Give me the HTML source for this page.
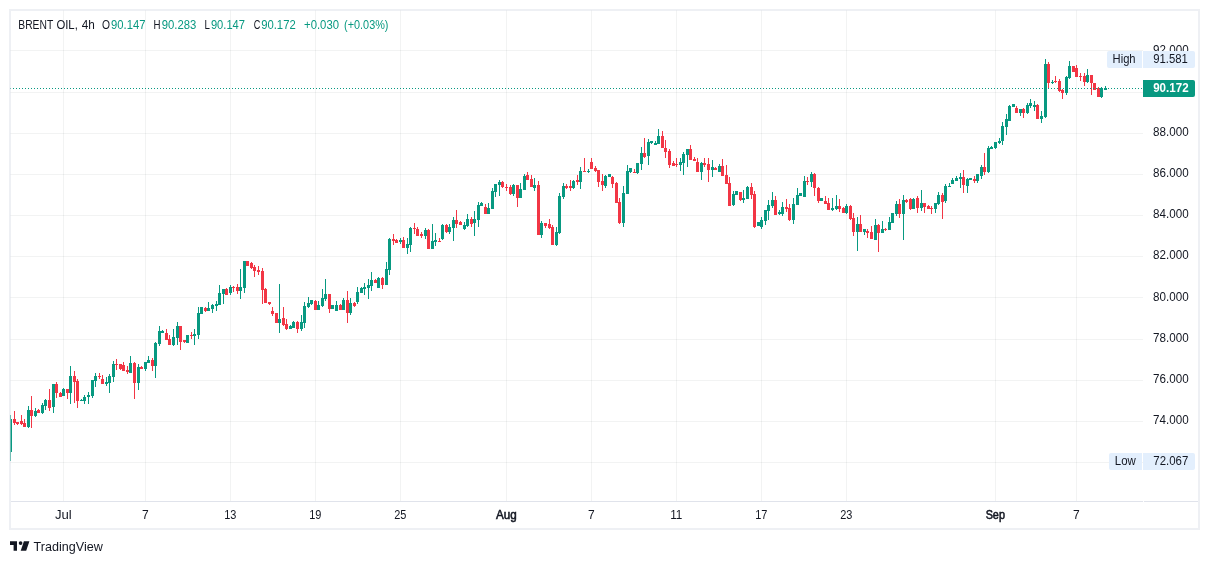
<!DOCTYPE html>
<html lang="en"><head><meta charset="utf-8"><title>BRENT OIL, 4h</title>
<style>html,body{margin:0;padding:0;background:#fff;overflow:hidden}</style></head>
<body>
<svg width="1209" height="564" viewBox="0 0 1209 564" style="display:block">
<rect width="1209" height="564" fill="#fff"/>
<g shape-rendering="crispEdges" fill="rgba(42,46,57,0.06)">
<rect x="10" y="50" width="1133" height="1"/>
<rect x="10" y="92" width="1133" height="1"/>
<rect x="10" y="133" width="1133" height="1"/>
<rect x="10" y="174" width="1133" height="1"/>
<rect x="10" y="215" width="1133" height="1"/>
<rect x="10" y="256" width="1133" height="1"/>
<rect x="10" y="297" width="1133" height="1"/>
<rect x="10" y="339" width="1133" height="1"/>
<rect x="10" y="380" width="1133" height="1"/>
<rect x="10" y="421" width="1133" height="1"/>
<rect x="10" y="462" width="1133" height="1"/>
<rect x="63" y="10" width="1" height="491"/>
<rect x="145" y="10" width="1" height="491"/>
<rect x="230" y="10" width="1" height="491"/>
<rect x="315" y="10" width="1" height="491"/>
<rect x="400" y="10" width="1" height="491"/>
<rect x="506" y="10" width="1" height="491"/>
<rect x="591" y="10" width="1" height="491"/>
<rect x="676" y="10" width="1" height="491"/>
<rect x="761" y="10" width="1" height="491"/>
<rect x="846" y="10" width="1" height="491"/>
<rect x="995" y="10" width="1" height="491"/>
<rect x="1076" y="10" width="1" height="491"/>
</g>
<clipPath id="pane"><rect x="10" y="10" width="1132" height="491"/></clipPath>
<g shape-rendering="crispEdges" clip-path="url(#pane)">
<rect x="10" y="415" width="1" height="46" fill="#089981"/>
<rect x="9" y="419" width="3" height="33" fill="#089981"/>
<rect x="14" y="411" width="1" height="14" fill="#f23645"/>
<rect x="13" y="419" width="3" height="4" fill="#f23645"/>
<rect x="17" y="422" width="1" height="3" fill="#f23645"/>
<rect x="16" y="422" width="3" height="2" fill="#f23645"/>
<rect x="21" y="415" width="1" height="10" fill="#f23645"/>
<rect x="20" y="421" width="3" height="3" fill="#f23645"/>
<rect x="24" y="419" width="1" height="8" fill="#f23645"/>
<rect x="23" y="423" width="3" height="4" fill="#f23645"/>
<rect x="28" y="406" width="1" height="22" fill="#089981"/>
<rect x="27" y="410" width="3" height="17" fill="#089981"/>
<rect x="31" y="396" width="1" height="32" fill="#f23645"/>
<rect x="30" y="410" width="3" height="6" fill="#f23645"/>
<rect x="35" y="408" width="1" height="9" fill="#089981"/>
<rect x="34" y="411" width="3" height="5" fill="#089981"/>
<rect x="38" y="409" width="1" height="4" fill="#f23645"/>
<rect x="37" y="410" width="3" height="3" fill="#f23645"/>
<rect x="42" y="403" width="1" height="11" fill="#089981"/>
<rect x="41" y="405" width="3" height="8" fill="#089981"/>
<rect x="45" y="399" width="1" height="11" fill="#089981"/>
<rect x="44" y="400" width="3" height="6" fill="#089981"/>
<rect x="49" y="389" width="1" height="22" fill="#f23645"/>
<rect x="48" y="400" width="3" height="8" fill="#f23645"/>
<rect x="53" y="384" width="1" height="29" fill="#089981"/>
<rect x="52" y="384" width="3" height="23" fill="#089981"/>
<rect x="56" y="382" width="1" height="16" fill="#f23645"/>
<rect x="55" y="384" width="3" height="9" fill="#f23645"/>
<rect x="60" y="392" width="1" height="5" fill="#f23645"/>
<rect x="59" y="393" width="3" height="4" fill="#f23645"/>
<rect x="63" y="388" width="1" height="8" fill="#089981"/>
<rect x="62" y="389" width="3" height="7" fill="#089981"/>
<rect x="67" y="389" width="1" height="10" fill="#f23645"/>
<rect x="66" y="389" width="3" height="4" fill="#f23645"/>
<rect x="70" y="366" width="1" height="38" fill="#089981"/>
<rect x="69" y="376" width="3" height="17" fill="#089981"/>
<rect x="74" y="371" width="1" height="32" fill="#f23645"/>
<rect x="73" y="376" width="3" height="6" fill="#f23645"/>
<rect x="77" y="379" width="1" height="29" fill="#f23645"/>
<rect x="76" y="381" width="3" height="20" fill="#f23645"/>
<rect x="81" y="399" width="1" height="2" fill="#089981"/>
<rect x="80" y="400" width="3" height="1" fill="#089981"/>
<rect x="84" y="395" width="1" height="9" fill="#089981"/>
<rect x="83" y="397" width="3" height="4" fill="#089981"/>
<rect x="88" y="392" width="1" height="12" fill="#089981"/>
<rect x="87" y="395" width="3" height="2" fill="#089981"/>
<rect x="92" y="380" width="1" height="18" fill="#089981"/>
<rect x="91" y="380" width="3" height="16" fill="#089981"/>
<rect x="95" y="373" width="1" height="14" fill="#089981"/>
<rect x="94" y="376" width="3" height="5" fill="#089981"/>
<rect x="99" y="373" width="1" height="6" fill="#f23645"/>
<rect x="98" y="376" width="3" height="1" fill="#f23645"/>
<rect x="102" y="375" width="1" height="9" fill="#f23645"/>
<rect x="101" y="379" width="3" height="5" fill="#f23645"/>
<rect x="106" y="377" width="1" height="9" fill="#089981"/>
<rect x="105" y="382" width="3" height="2" fill="#089981"/>
<rect x="109" y="374" width="1" height="19" fill="#089981"/>
<rect x="108" y="376" width="3" height="7" fill="#089981"/>
<rect x="113" y="361" width="1" height="21" fill="#089981"/>
<rect x="112" y="364" width="3" height="13" fill="#089981"/>
<rect x="116" y="359" width="1" height="11" fill="#f23645"/>
<rect x="115" y="364" width="3" height="1" fill="#f23645"/>
<rect x="120" y="364" width="1" height="6" fill="#f23645"/>
<rect x="119" y="364" width="3" height="5" fill="#f23645"/>
<rect x="123" y="362" width="1" height="9" fill="#f23645"/>
<rect x="122" y="365" width="3" height="6" fill="#f23645"/>
<rect x="127" y="366" width="1" height="8" fill="#f23645"/>
<rect x="126" y="370" width="3" height="2" fill="#f23645"/>
<rect x="130" y="356" width="1" height="17" fill="#089981"/>
<rect x="129" y="363" width="3" height="10" fill="#089981"/>
<rect x="134" y="362" width="1" height="37" fill="#f23645"/>
<rect x="133" y="363" width="3" height="20" fill="#f23645"/>
<rect x="138" y="364" width="1" height="26" fill="#089981"/>
<rect x="137" y="367" width="3" height="16" fill="#089981"/>
<rect x="141" y="366" width="1" height="3" fill="#f23645"/>
<rect x="140" y="367" width="3" height="2" fill="#f23645"/>
<rect x="145" y="362" width="1" height="9" fill="#089981"/>
<rect x="144" y="362" width="3" height="7" fill="#089981"/>
<rect x="148" y="356" width="1" height="7" fill="#089981"/>
<rect x="147" y="360" width="3" height="3" fill="#089981"/>
<rect x="152" y="358" width="1" height="13" fill="#f23645"/>
<rect x="151" y="360" width="3" height="6" fill="#f23645"/>
<rect x="155" y="342" width="1" height="36" fill="#089981"/>
<rect x="154" y="343" width="3" height="23" fill="#089981"/>
<rect x="159" y="326" width="1" height="20" fill="#089981"/>
<rect x="158" y="331" width="3" height="13" fill="#089981"/>
<rect x="162" y="330" width="1" height="3" fill="#089981"/>
<rect x="161" y="331" width="3" height="2" fill="#089981"/>
<rect x="166" y="329" width="1" height="11" fill="#f23645"/>
<rect x="165" y="333" width="3" height="7" fill="#f23645"/>
<rect x="169" y="335" width="1" height="10" fill="#f23645"/>
<rect x="168" y="339" width="3" height="6" fill="#f23645"/>
<rect x="173" y="329" width="1" height="17" fill="#089981"/>
<rect x="172" y="337" width="3" height="8" fill="#089981"/>
<rect x="177" y="322" width="1" height="23" fill="#089981"/>
<rect x="176" y="326" width="3" height="12" fill="#089981"/>
<rect x="180" y="326" width="1" height="24" fill="#f23645"/>
<rect x="179" y="326" width="3" height="16" fill="#f23645"/>
<rect x="184" y="340" width="1" height="3" fill="#f23645"/>
<rect x="183" y="340" width="3" height="2" fill="#f23645"/>
<rect x="187" y="335" width="1" height="8" fill="#089981"/>
<rect x="186" y="335" width="3" height="8" fill="#089981"/>
<rect x="191" y="332" width="1" height="7" fill="#f23645"/>
<rect x="190" y="335" width="3" height="1" fill="#f23645"/>
<rect x="194" y="329" width="1" height="16" fill="#089981"/>
<rect x="193" y="334" width="3" height="2" fill="#089981"/>
<rect x="198" y="307" width="1" height="32" fill="#089981"/>
<rect x="197" y="313" width="3" height="22" fill="#089981"/>
<rect x="201" y="307" width="1" height="7" fill="#089981"/>
<rect x="200" y="307" width="3" height="7" fill="#089981"/>
<rect x="205" y="307" width="1" height="5" fill="#f23645"/>
<rect x="204" y="308" width="3" height="3" fill="#f23645"/>
<rect x="208" y="302" width="1" height="9" fill="#089981"/>
<rect x="207" y="308" width="3" height="3" fill="#089981"/>
<rect x="212" y="304" width="1" height="9" fill="#089981"/>
<rect x="211" y="305" width="3" height="4" fill="#089981"/>
<rect x="216" y="301" width="1" height="10" fill="#089981"/>
<rect x="215" y="304" width="3" height="2" fill="#089981"/>
<rect x="219" y="285" width="1" height="20" fill="#089981"/>
<rect x="218" y="293" width="3" height="12" fill="#089981"/>
<rect x="223" y="289" width="1" height="15" fill="#089981"/>
<rect x="222" y="289" width="3" height="5" fill="#089981"/>
<rect x="226" y="288" width="1" height="7" fill="#f23645"/>
<rect x="225" y="289" width="3" height="6" fill="#f23645"/>
<rect x="230" y="285" width="1" height="10" fill="#089981"/>
<rect x="229" y="287" width="3" height="6" fill="#089981"/>
<rect x="233" y="286" width="1" height="6" fill="#f23645"/>
<rect x="232" y="287" width="3" height="1" fill="#f23645"/>
<rect x="237" y="284" width="1" height="10" fill="#f23645"/>
<rect x="236" y="287" width="3" height="4" fill="#f23645"/>
<rect x="240" y="269" width="1" height="30" fill="#089981"/>
<rect x="239" y="287" width="3" height="4" fill="#089981"/>
<rect x="244" y="261" width="1" height="32" fill="#089981"/>
<rect x="243" y="261" width="3" height="27" fill="#089981"/>
<rect x="247" y="261" width="1" height="5" fill="#f23645"/>
<rect x="246" y="261" width="3" height="5" fill="#f23645"/>
<rect x="251" y="262" width="1" height="7" fill="#f23645"/>
<rect x="250" y="263" width="3" height="5" fill="#f23645"/>
<rect x="254" y="265" width="1" height="12" fill="#f23645"/>
<rect x="253" y="267" width="3" height="4" fill="#f23645"/>
<rect x="258" y="266" width="1" height="9" fill="#f23645"/>
<rect x="257" y="270" width="3" height="2" fill="#f23645"/>
<rect x="262" y="268" width="1" height="36" fill="#f23645"/>
<rect x="261" y="271" width="3" height="19" fill="#f23645"/>
<rect x="265" y="288" width="1" height="15" fill="#f23645"/>
<rect x="264" y="289" width="3" height="14" fill="#f23645"/>
<rect x="269" y="302" width="1" height="3" fill="#f23645"/>
<rect x="268" y="302" width="3" height="2" fill="#f23645"/>
<rect x="272" y="307" width="1" height="9" fill="#f23645"/>
<rect x="271" y="311" width="3" height="3" fill="#f23645"/>
<rect x="276" y="313" width="1" height="10" fill="#f23645"/>
<rect x="275" y="313" width="3" height="10" fill="#f23645"/>
<rect x="279" y="284" width="1" height="49" fill="#089981"/>
<rect x="278" y="319" width="3" height="4" fill="#089981"/>
<rect x="283" y="307" width="1" height="19" fill="#f23645"/>
<rect x="282" y="318" width="3" height="7" fill="#f23645"/>
<rect x="286" y="319" width="1" height="11" fill="#f23645"/>
<rect x="285" y="324" width="3" height="5" fill="#f23645"/>
<rect x="290" y="325" width="1" height="4" fill="#089981"/>
<rect x="289" y="326" width="3" height="3" fill="#089981"/>
<rect x="293" y="321" width="1" height="7" fill="#089981"/>
<rect x="292" y="322" width="3" height="6" fill="#089981"/>
<rect x="297" y="321" width="1" height="12" fill="#f23645"/>
<rect x="296" y="322" width="3" height="7" fill="#f23645"/>
<rect x="301" y="315" width="1" height="16" fill="#089981"/>
<rect x="300" y="322" width="3" height="7" fill="#089981"/>
<rect x="304" y="302" width="1" height="26" fill="#089981"/>
<rect x="303" y="306" width="3" height="17" fill="#089981"/>
<rect x="308" y="297" width="1" height="11" fill="#089981"/>
<rect x="307" y="303" width="3" height="4" fill="#089981"/>
<rect x="311" y="300" width="1" height="5" fill="#089981"/>
<rect x="310" y="300" width="3" height="4" fill="#089981"/>
<rect x="315" y="300" width="1" height="10" fill="#f23645"/>
<rect x="314" y="301" width="3" height="9" fill="#f23645"/>
<rect x="318" y="301" width="1" height="9" fill="#089981"/>
<rect x="317" y="305" width="3" height="5" fill="#089981"/>
<rect x="322" y="289" width="1" height="18" fill="#089981"/>
<rect x="321" y="298" width="3" height="8" fill="#089981"/>
<rect x="325" y="279" width="1" height="22" fill="#089981"/>
<rect x="324" y="294" width="3" height="5" fill="#089981"/>
<rect x="329" y="294" width="1" height="19" fill="#f23645"/>
<rect x="328" y="294" width="3" height="15" fill="#f23645"/>
<rect x="332" y="305" width="1" height="4" fill="#089981"/>
<rect x="331" y="305" width="3" height="4" fill="#089981"/>
<rect x="336" y="301" width="1" height="10" fill="#089981"/>
<rect x="335" y="305" width="3" height="6" fill="#089981"/>
<rect x="340" y="304" width="1" height="6" fill="#f23645"/>
<rect x="339" y="305" width="3" height="5" fill="#f23645"/>
<rect x="343" y="298" width="1" height="12" fill="#089981"/>
<rect x="342" y="300" width="3" height="10" fill="#089981"/>
<rect x="347" y="291" width="1" height="32" fill="#f23645"/>
<rect x="346" y="300" width="3" height="13" fill="#f23645"/>
<rect x="350" y="298" width="1" height="17" fill="#089981"/>
<rect x="349" y="303" width="3" height="10" fill="#089981"/>
<rect x="354" y="302" width="1" height="5" fill="#f23645"/>
<rect x="353" y="303" width="3" height="3" fill="#f23645"/>
<rect x="357" y="287" width="1" height="17" fill="#089981"/>
<rect x="356" y="292" width="3" height="10" fill="#089981"/>
<rect x="361" y="287" width="1" height="6" fill="#089981"/>
<rect x="360" y="288" width="3" height="5" fill="#089981"/>
<rect x="364" y="283" width="1" height="12" fill="#089981"/>
<rect x="363" y="287" width="3" height="2" fill="#089981"/>
<rect x="368" y="279" width="1" height="20" fill="#089981"/>
<rect x="367" y="285" width="3" height="3" fill="#089981"/>
<rect x="371" y="272" width="1" height="19" fill="#089981"/>
<rect x="370" y="280" width="3" height="6" fill="#089981"/>
<rect x="375" y="279" width="1" height="4" fill="#f23645"/>
<rect x="374" y="280" width="3" height="3" fill="#f23645"/>
<rect x="378" y="277" width="1" height="11" fill="#089981"/>
<rect x="377" y="278" width="3" height="10" fill="#089981"/>
<rect x="382" y="277" width="1" height="12" fill="#f23645"/>
<rect x="381" y="278" width="3" height="7" fill="#f23645"/>
<rect x="386" y="262" width="1" height="23" fill="#089981"/>
<rect x="385" y="269" width="3" height="16" fill="#089981"/>
<rect x="389" y="238" width="1" height="37" fill="#089981"/>
<rect x="388" y="239" width="3" height="31" fill="#089981"/>
<rect x="393" y="234" width="1" height="11" fill="#f23645"/>
<rect x="392" y="239" width="3" height="2" fill="#f23645"/>
<rect x="396" y="239" width="1" height="4" fill="#f23645"/>
<rect x="395" y="240" width="3" height="3" fill="#f23645"/>
<rect x="400" y="238" width="1" height="6" fill="#089981"/>
<rect x="399" y="240" width="3" height="2" fill="#089981"/>
<rect x="403" y="237" width="1" height="11" fill="#f23645"/>
<rect x="402" y="240" width="3" height="8" fill="#f23645"/>
<rect x="407" y="238" width="1" height="16" fill="#089981"/>
<rect x="406" y="244" width="3" height="4" fill="#089981"/>
<rect x="410" y="227" width="1" height="25" fill="#089981"/>
<rect x="409" y="228" width="3" height="17" fill="#089981"/>
<rect x="414" y="223" width="1" height="11" fill="#f23645"/>
<rect x="413" y="228" width="3" height="1" fill="#f23645"/>
<rect x="417" y="227" width="1" height="9" fill="#f23645"/>
<rect x="416" y="229" width="3" height="7" fill="#f23645"/>
<rect x="421" y="232" width="1" height="6" fill="#f23645"/>
<rect x="420" y="234" width="3" height="2" fill="#f23645"/>
<rect x="425" y="228" width="1" height="11" fill="#089981"/>
<rect x="424" y="230" width="3" height="6" fill="#089981"/>
<rect x="428" y="229" width="1" height="20" fill="#f23645"/>
<rect x="427" y="230" width="3" height="19" fill="#f23645"/>
<rect x="432" y="224" width="1" height="25" fill="#089981"/>
<rect x="431" y="241" width="3" height="8" fill="#089981"/>
<rect x="435" y="233" width="1" height="13" fill="#089981"/>
<rect x="434" y="240" width="3" height="2" fill="#089981"/>
<rect x="439" y="238" width="1" height="4" fill="#f23645"/>
<rect x="438" y="241" width="3" height="1" fill="#f23645"/>
<rect x="442" y="224" width="1" height="16" fill="#089981"/>
<rect x="441" y="225" width="3" height="14" fill="#089981"/>
<rect x="446" y="224" width="1" height="9" fill="#f23645"/>
<rect x="445" y="225" width="3" height="7" fill="#f23645"/>
<rect x="449" y="224" width="1" height="10" fill="#089981"/>
<rect x="448" y="227" width="3" height="5" fill="#089981"/>
<rect x="453" y="217" width="1" height="24" fill="#089981"/>
<rect x="452" y="220" width="3" height="8" fill="#089981"/>
<rect x="456" y="210" width="1" height="18" fill="#f23645"/>
<rect x="455" y="220" width="3" height="4" fill="#f23645"/>
<rect x="460" y="221" width="1" height="4" fill="#f23645"/>
<rect x="459" y="222" width="3" height="3" fill="#f23645"/>
<rect x="464" y="222" width="1" height="8" fill="#089981"/>
<rect x="463" y="225" width="3" height="4" fill="#089981"/>
<rect x="467" y="214" width="1" height="13" fill="#089981"/>
<rect x="466" y="219" width="3" height="7" fill="#089981"/>
<rect x="471" y="217" width="1" height="10" fill="#f23645"/>
<rect x="470" y="219" width="3" height="5" fill="#f23645"/>
<rect x="474" y="211" width="1" height="25" fill="#089981"/>
<rect x="473" y="219" width="3" height="4" fill="#089981"/>
<rect x="478" y="202" width="1" height="25" fill="#089981"/>
<rect x="477" y="205" width="3" height="15" fill="#089981"/>
<rect x="481" y="202" width="1" height="4" fill="#089981"/>
<rect x="480" y="203" width="3" height="3" fill="#089981"/>
<rect x="485" y="204" width="1" height="10" fill="#f23645"/>
<rect x="484" y="207" width="3" height="7" fill="#f23645"/>
<rect x="488" y="203" width="1" height="11" fill="#089981"/>
<rect x="487" y="208" width="3" height="6" fill="#089981"/>
<rect x="492" y="188" width="1" height="21" fill="#089981"/>
<rect x="491" y="191" width="3" height="18" fill="#089981"/>
<rect x="495" y="184" width="1" height="13" fill="#089981"/>
<rect x="494" y="184" width="3" height="8" fill="#089981"/>
<rect x="499" y="180" width="1" height="16" fill="#089981"/>
<rect x="498" y="182" width="3" height="3" fill="#089981"/>
<rect x="502" y="181" width="1" height="7" fill="#f23645"/>
<rect x="501" y="182" width="3" height="5" fill="#f23645"/>
<rect x="506" y="184" width="1" height="7" fill="#f23645"/>
<rect x="505" y="187" width="3" height="1" fill="#f23645"/>
<rect x="510" y="185" width="1" height="10" fill="#f23645"/>
<rect x="509" y="187" width="3" height="7" fill="#f23645"/>
<rect x="513" y="184" width="1" height="12" fill="#089981"/>
<rect x="512" y="185" width="3" height="9" fill="#089981"/>
<rect x="517" y="185" width="1" height="22" fill="#f23645"/>
<rect x="516" y="185" width="3" height="13" fill="#f23645"/>
<rect x="520" y="183" width="1" height="15" fill="#089981"/>
<rect x="519" y="189" width="3" height="9" fill="#089981"/>
<rect x="524" y="174" width="1" height="16" fill="#089981"/>
<rect x="523" y="176" width="3" height="14" fill="#089981"/>
<rect x="527" y="172" width="1" height="8" fill="#f23645"/>
<rect x="526" y="175" width="3" height="5" fill="#f23645"/>
<rect x="531" y="175" width="1" height="12" fill="#f23645"/>
<rect x="530" y="179" width="3" height="8" fill="#f23645"/>
<rect x="534" y="178" width="1" height="13" fill="#089981"/>
<rect x="533" y="185" width="3" height="3" fill="#089981"/>
<rect x="538" y="181" width="1" height="54" fill="#f23645"/>
<rect x="537" y="185" width="3" height="50" fill="#f23645"/>
<rect x="541" y="221" width="1" height="17" fill="#089981"/>
<rect x="540" y="223" width="3" height="12" fill="#089981"/>
<rect x="545" y="223" width="1" height="5" fill="#f23645"/>
<rect x="544" y="223" width="3" height="3" fill="#f23645"/>
<rect x="549" y="219" width="1" height="10" fill="#f23645"/>
<rect x="548" y="224" width="3" height="4" fill="#f23645"/>
<rect x="552" y="225" width="1" height="20" fill="#f23645"/>
<rect x="551" y="227" width="3" height="18" fill="#f23645"/>
<rect x="556" y="227" width="1" height="19" fill="#089981"/>
<rect x="555" y="232" width="3" height="13" fill="#089981"/>
<rect x="559" y="193" width="1" height="41" fill="#089981"/>
<rect x="558" y="196" width="3" height="37" fill="#089981"/>
<rect x="563" y="183" width="1" height="16" fill="#089981"/>
<rect x="562" y="186" width="3" height="11" fill="#089981"/>
<rect x="566" y="184" width="1" height="5" fill="#f23645"/>
<rect x="565" y="186" width="3" height="2" fill="#f23645"/>
<rect x="570" y="180" width="1" height="11" fill="#f23645"/>
<rect x="569" y="186" width="3" height="2" fill="#f23645"/>
<rect x="573" y="180" width="1" height="9" fill="#089981"/>
<rect x="572" y="181" width="3" height="7" fill="#089981"/>
<rect x="577" y="175" width="1" height="10" fill="#f23645"/>
<rect x="576" y="180" width="3" height="2" fill="#f23645"/>
<rect x="580" y="167" width="1" height="22" fill="#089981"/>
<rect x="579" y="171" width="3" height="11" fill="#089981"/>
<rect x="584" y="158" width="1" height="14" fill="#f23645"/>
<rect x="583" y="171" width="3" height="1" fill="#f23645"/>
<rect x="588" y="169" width="1" height="4" fill="#089981"/>
<rect x="587" y="171" width="3" height="1" fill="#089981"/>
<rect x="591" y="158" width="1" height="11" fill="#f23645"/>
<rect x="590" y="162" width="3" height="7" fill="#f23645"/>
<rect x="595" y="166" width="1" height="6" fill="#f23645"/>
<rect x="594" y="168" width="3" height="3" fill="#f23645"/>
<rect x="598" y="170" width="1" height="17" fill="#f23645"/>
<rect x="597" y="170" width="3" height="12" fill="#f23645"/>
<rect x="602" y="174" width="1" height="17" fill="#f23645"/>
<rect x="601" y="181" width="3" height="4" fill="#f23645"/>
<rect x="605" y="175" width="1" height="13" fill="#089981"/>
<rect x="604" y="176" width="3" height="10" fill="#089981"/>
<rect x="609" y="174" width="1" height="3" fill="#089981"/>
<rect x="608" y="174" width="3" height="3" fill="#089981"/>
<rect x="612" y="176" width="1" height="12" fill="#f23645"/>
<rect x="611" y="177" width="3" height="7" fill="#f23645"/>
<rect x="616" y="182" width="1" height="21" fill="#f23645"/>
<rect x="615" y="183" width="3" height="20" fill="#f23645"/>
<rect x="619" y="198" width="1" height="26" fill="#f23645"/>
<rect x="618" y="202" width="3" height="21" fill="#f23645"/>
<rect x="623" y="186" width="1" height="41" fill="#089981"/>
<rect x="622" y="193" width="3" height="30" fill="#089981"/>
<rect x="627" y="165" width="1" height="29" fill="#089981"/>
<rect x="626" y="171" width="3" height="23" fill="#089981"/>
<rect x="630" y="168" width="1" height="5" fill="#089981"/>
<rect x="629" y="168" width="3" height="4" fill="#089981"/>
<rect x="634" y="169" width="1" height="4" fill="#f23645"/>
<rect x="633" y="172" width="3" height="1" fill="#f23645"/>
<rect x="637" y="163" width="1" height="11" fill="#089981"/>
<rect x="636" y="163" width="3" height="10" fill="#089981"/>
<rect x="641" y="147" width="1" height="23" fill="#089981"/>
<rect x="640" y="153" width="3" height="11" fill="#089981"/>
<rect x="644" y="138" width="1" height="20" fill="#f23645"/>
<rect x="643" y="153" width="3" height="4" fill="#f23645"/>
<rect x="648" y="139" width="1" height="26" fill="#089981"/>
<rect x="647" y="142" width="3" height="14" fill="#089981"/>
<rect x="651" y="141" width="1" height="3" fill="#089981"/>
<rect x="650" y="141" width="3" height="2" fill="#089981"/>
<rect x="655" y="141" width="1" height="4" fill="#089981"/>
<rect x="654" y="143" width="3" height="2" fill="#089981"/>
<rect x="658" y="129" width="1" height="15" fill="#089981"/>
<rect x="657" y="136" width="3" height="8" fill="#089981"/>
<rect x="662" y="131" width="1" height="17" fill="#f23645"/>
<rect x="661" y="136" width="3" height="12" fill="#f23645"/>
<rect x="665" y="140" width="1" height="18" fill="#f23645"/>
<rect x="664" y="148" width="3" height="4" fill="#f23645"/>
<rect x="669" y="149" width="1" height="19" fill="#f23645"/>
<rect x="668" y="151" width="3" height="14" fill="#f23645"/>
<rect x="673" y="161" width="1" height="5" fill="#f23645"/>
<rect x="672" y="163" width="3" height="3" fill="#f23645"/>
<rect x="676" y="158" width="1" height="9" fill="#f23645"/>
<rect x="675" y="164" width="3" height="1" fill="#f23645"/>
<rect x="680" y="158" width="1" height="13" fill="#089981"/>
<rect x="679" y="162" width="3" height="3" fill="#089981"/>
<rect x="683" y="152" width="1" height="23" fill="#089981"/>
<rect x="682" y="154" width="3" height="9" fill="#089981"/>
<rect x="687" y="149" width="1" height="18" fill="#089981"/>
<rect x="686" y="149" width="3" height="6" fill="#089981"/>
<rect x="690" y="145" width="1" height="15" fill="#f23645"/>
<rect x="689" y="149" width="3" height="11" fill="#f23645"/>
<rect x="694" y="157" width="1" height="4" fill="#f23645"/>
<rect x="693" y="159" width="3" height="2" fill="#f23645"/>
<rect x="697" y="158" width="1" height="14" fill="#f23645"/>
<rect x="696" y="162" width="3" height="10" fill="#f23645"/>
<rect x="701" y="162" width="1" height="18" fill="#089981"/>
<rect x="700" y="163" width="3" height="9" fill="#089981"/>
<rect x="704" y="158" width="1" height="9" fill="#f23645"/>
<rect x="703" y="163" width="3" height="2" fill="#f23645"/>
<rect x="708" y="158" width="1" height="24" fill="#f23645"/>
<rect x="707" y="164" width="3" height="6" fill="#f23645"/>
<rect x="712" y="160" width="1" height="17" fill="#089981"/>
<rect x="711" y="167" width="3" height="3" fill="#089981"/>
<rect x="715" y="167" width="1" height="3" fill="#f23645"/>
<rect x="714" y="168" width="3" height="2" fill="#f23645"/>
<rect x="719" y="164" width="1" height="8" fill="#089981"/>
<rect x="718" y="166" width="3" height="6" fill="#089981"/>
<rect x="722" y="159" width="1" height="17" fill="#f23645"/>
<rect x="721" y="166" width="3" height="10" fill="#f23645"/>
<rect x="726" y="165" width="1" height="19" fill="#f23645"/>
<rect x="725" y="175" width="3" height="9" fill="#f23645"/>
<rect x="729" y="177" width="1" height="29" fill="#f23645"/>
<rect x="728" y="183" width="3" height="23" fill="#f23645"/>
<rect x="733" y="191" width="1" height="15" fill="#089981"/>
<rect x="732" y="194" width="3" height="11" fill="#089981"/>
<rect x="736" y="191" width="1" height="4" fill="#089981"/>
<rect x="735" y="191" width="3" height="4" fill="#089981"/>
<rect x="740" y="192" width="1" height="9" fill="#f23645"/>
<rect x="739" y="192" width="3" height="8" fill="#f23645"/>
<rect x="743" y="190" width="1" height="13" fill="#089981"/>
<rect x="742" y="198" width="3" height="2" fill="#089981"/>
<rect x="747" y="186" width="1" height="13" fill="#089981"/>
<rect x="746" y="187" width="3" height="12" fill="#089981"/>
<rect x="751" y="183" width="1" height="16" fill="#f23645"/>
<rect x="750" y="187" width="3" height="8" fill="#f23645"/>
<rect x="754" y="191" width="1" height="37" fill="#f23645"/>
<rect x="753" y="194" width="3" height="33" fill="#f23645"/>
<rect x="758" y="222" width="1" height="4" fill="#089981"/>
<rect x="757" y="222" width="3" height="4" fill="#089981"/>
<rect x="761" y="217" width="1" height="12" fill="#089981"/>
<rect x="760" y="220" width="3" height="7" fill="#089981"/>
<rect x="765" y="210" width="1" height="15" fill="#089981"/>
<rect x="764" y="210" width="3" height="11" fill="#089981"/>
<rect x="768" y="200" width="1" height="20" fill="#089981"/>
<rect x="767" y="205" width="3" height="6" fill="#089981"/>
<rect x="772" y="192" width="1" height="16" fill="#089981"/>
<rect x="771" y="200" width="3" height="6" fill="#089981"/>
<rect x="775" y="196" width="1" height="19" fill="#f23645"/>
<rect x="774" y="200" width="3" height="15" fill="#f23645"/>
<rect x="779" y="210" width="1" height="5" fill="#089981"/>
<rect x="778" y="212" width="3" height="2" fill="#089981"/>
<rect x="782" y="202" width="1" height="14" fill="#089981"/>
<rect x="781" y="207" width="3" height="7" fill="#089981"/>
<rect x="786" y="199" width="1" height="13" fill="#f23645"/>
<rect x="785" y="207" width="3" height="2" fill="#f23645"/>
<rect x="789" y="204" width="1" height="17" fill="#f23645"/>
<rect x="788" y="208" width="3" height="12" fill="#f23645"/>
<rect x="793" y="198" width="1" height="26" fill="#089981"/>
<rect x="792" y="204" width="3" height="16" fill="#089981"/>
<rect x="797" y="188" width="1" height="17" fill="#089981"/>
<rect x="796" y="195" width="3" height="10" fill="#089981"/>
<rect x="800" y="193" width="1" height="3" fill="#089981"/>
<rect x="799" y="193" width="3" height="3" fill="#089981"/>
<rect x="804" y="176" width="1" height="21" fill="#089981"/>
<rect x="803" y="181" width="3" height="16" fill="#089981"/>
<rect x="807" y="177" width="1" height="8" fill="#f23645"/>
<rect x="806" y="181" width="3" height="1" fill="#f23645"/>
<rect x="811" y="172" width="1" height="15" fill="#089981"/>
<rect x="810" y="174" width="3" height="8" fill="#089981"/>
<rect x="814" y="173" width="1" height="23" fill="#f23645"/>
<rect x="813" y="174" width="3" height="14" fill="#f23645"/>
<rect x="818" y="187" width="1" height="16" fill="#f23645"/>
<rect x="817" y="188" width="3" height="13" fill="#f23645"/>
<rect x="821" y="198" width="1" height="3" fill="#089981"/>
<rect x="820" y="198" width="3" height="3" fill="#089981"/>
<rect x="825" y="196" width="1" height="8" fill="#f23645"/>
<rect x="824" y="201" width="3" height="3" fill="#f23645"/>
<rect x="828" y="198" width="1" height="12" fill="#f23645"/>
<rect x="827" y="203" width="3" height="7" fill="#f23645"/>
<rect x="832" y="198" width="1" height="13" fill="#089981"/>
<rect x="831" y="208" width="3" height="2" fill="#089981"/>
<rect x="836" y="195" width="1" height="15" fill="#089981"/>
<rect x="835" y="206" width="3" height="3" fill="#089981"/>
<rect x="839" y="199" width="1" height="13" fill="#f23645"/>
<rect x="838" y="206" width="3" height="3" fill="#f23645"/>
<rect x="843" y="207" width="1" height="6" fill="#f23645"/>
<rect x="842" y="208" width="3" height="5" fill="#f23645"/>
<rect x="846" y="204" width="1" height="10" fill="#089981"/>
<rect x="845" y="206" width="3" height="7" fill="#089981"/>
<rect x="850" y="205" width="1" height="15" fill="#f23645"/>
<rect x="849" y="206" width="3" height="13" fill="#f23645"/>
<rect x="853" y="213" width="1" height="23" fill="#f23645"/>
<rect x="852" y="218" width="3" height="14" fill="#f23645"/>
<rect x="857" y="217" width="1" height="34" fill="#089981"/>
<rect x="856" y="224" width="3" height="8" fill="#089981"/>
<rect x="860" y="215" width="1" height="17" fill="#f23645"/>
<rect x="859" y="224" width="3" height="8" fill="#f23645"/>
<rect x="864" y="229" width="1" height="6" fill="#089981"/>
<rect x="863" y="229" width="3" height="3" fill="#089981"/>
<rect x="867" y="229" width="1" height="9" fill="#f23645"/>
<rect x="866" y="231" width="3" height="2" fill="#f23645"/>
<rect x="871" y="226" width="1" height="13" fill="#f23645"/>
<rect x="870" y="232" width="3" height="7" fill="#f23645"/>
<rect x="875" y="219" width="1" height="21" fill="#089981"/>
<rect x="874" y="225" width="3" height="15" fill="#089981"/>
<rect x="878" y="224" width="1" height="28" fill="#f23645"/>
<rect x="877" y="225" width="3" height="8" fill="#f23645"/>
<rect x="882" y="221" width="1" height="12" fill="#089981"/>
<rect x="881" y="229" width="3" height="4" fill="#089981"/>
<rect x="885" y="228" width="1" height="3" fill="#f23645"/>
<rect x="884" y="229" width="3" height="1" fill="#f23645"/>
<rect x="889" y="217" width="1" height="13" fill="#089981"/>
<rect x="888" y="222" width="3" height="8" fill="#089981"/>
<rect x="892" y="213" width="1" height="10" fill="#089981"/>
<rect x="891" y="213" width="3" height="10" fill="#089981"/>
<rect x="896" y="201" width="1" height="15" fill="#089981"/>
<rect x="895" y="204" width="3" height="10" fill="#089981"/>
<rect x="899" y="199" width="1" height="19" fill="#f23645"/>
<rect x="898" y="204" width="3" height="10" fill="#f23645"/>
<rect x="903" y="195" width="1" height="45" fill="#089981"/>
<rect x="902" y="200" width="3" height="14" fill="#089981"/>
<rect x="906" y="199" width="1" height="4" fill="#f23645"/>
<rect x="905" y="200" width="3" height="2" fill="#f23645"/>
<rect x="910" y="198" width="1" height="12" fill="#f23645"/>
<rect x="909" y="199" width="3" height="10" fill="#f23645"/>
<rect x="913" y="198" width="1" height="11" fill="#089981"/>
<rect x="912" y="199" width="3" height="10" fill="#089981"/>
<rect x="917" y="196" width="1" height="17" fill="#f23645"/>
<rect x="916" y="198" width="3" height="10" fill="#f23645"/>
<rect x="921" y="190" width="1" height="21" fill="#089981"/>
<rect x="920" y="203" width="3" height="5" fill="#089981"/>
<rect x="924" y="203" width="1" height="10" fill="#f23645"/>
<rect x="923" y="203" width="3" height="4" fill="#f23645"/>
<rect x="928" y="205" width="1" height="4" fill="#f23645"/>
<rect x="927" y="206" width="3" height="3" fill="#f23645"/>
<rect x="931" y="206" width="1" height="8" fill="#f23645"/>
<rect x="930" y="208" width="3" height="1" fill="#f23645"/>
<rect x="935" y="203" width="1" height="10" fill="#089981"/>
<rect x="934" y="203" width="3" height="6" fill="#089981"/>
<rect x="938" y="192" width="1" height="13" fill="#089981"/>
<rect x="937" y="195" width="3" height="9" fill="#089981"/>
<rect x="942" y="193" width="1" height="26" fill="#f23645"/>
<rect x="941" y="195" width="3" height="7" fill="#f23645"/>
<rect x="945" y="184" width="1" height="19" fill="#089981"/>
<rect x="944" y="186" width="3" height="15" fill="#089981"/>
<rect x="949" y="183" width="1" height="4" fill="#089981"/>
<rect x="948" y="186" width="3" height="1" fill="#089981"/>
<rect x="952" y="178" width="1" height="6" fill="#089981"/>
<rect x="951" y="180" width="3" height="4" fill="#089981"/>
<rect x="956" y="176" width="1" height="5" fill="#089981"/>
<rect x="955" y="178" width="3" height="3" fill="#089981"/>
<rect x="960" y="173" width="1" height="15" fill="#089981"/>
<rect x="959" y="177" width="3" height="2" fill="#089981"/>
<rect x="963" y="170" width="1" height="23" fill="#f23645"/>
<rect x="962" y="177" width="3" height="8" fill="#f23645"/>
<rect x="967" y="178" width="1" height="15" fill="#089981"/>
<rect x="966" y="179" width="3" height="7" fill="#089981"/>
<rect x="970" y="178" width="1" height="2" fill="#089981"/>
<rect x="969" y="178" width="3" height="2" fill="#089981"/>
<rect x="974" y="176" width="1" height="7" fill="#f23645"/>
<rect x="973" y="179" width="3" height="2" fill="#f23645"/>
<rect x="977" y="174" width="1" height="9" fill="#089981"/>
<rect x="976" y="174" width="3" height="7" fill="#089981"/>
<rect x="981" y="165" width="1" height="14" fill="#089981"/>
<rect x="980" y="167" width="3" height="9" fill="#089981"/>
<rect x="984" y="153" width="1" height="22" fill="#f23645"/>
<rect x="983" y="167" width="3" height="5" fill="#f23645"/>
<rect x="988" y="146" width="1" height="27" fill="#089981"/>
<rect x="987" y="148" width="3" height="24" fill="#089981"/>
<rect x="991" y="146" width="1" height="3" fill="#089981"/>
<rect x="990" y="147" width="3" height="2" fill="#089981"/>
<rect x="995" y="142" width="1" height="7" fill="#089981"/>
<rect x="994" y="142" width="3" height="6" fill="#089981"/>
<rect x="999" y="138" width="1" height="6" fill="#089981"/>
<rect x="998" y="141" width="3" height="2" fill="#089981"/>
<rect x="1002" y="122" width="1" height="23" fill="#089981"/>
<rect x="1001" y="126" width="3" height="15" fill="#089981"/>
<rect x="1006" y="114" width="1" height="21" fill="#089981"/>
<rect x="1005" y="119" width="3" height="8" fill="#089981"/>
<rect x="1009" y="105" width="1" height="16" fill="#089981"/>
<rect x="1008" y="106" width="3" height="15" fill="#089981"/>
<rect x="1013" y="104" width="1" height="3" fill="#089981"/>
<rect x="1012" y="104" width="3" height="3" fill="#089981"/>
<rect x="1016" y="106" width="1" height="7" fill="#f23645"/>
<rect x="1015" y="108" width="3" height="5" fill="#f23645"/>
<rect x="1020" y="109" width="1" height="7" fill="#089981"/>
<rect x="1019" y="109" width="3" height="4" fill="#089981"/>
<rect x="1023" y="108" width="1" height="10" fill="#f23645"/>
<rect x="1022" y="109" width="3" height="4" fill="#f23645"/>
<rect x="1027" y="103" width="1" height="11" fill="#089981"/>
<rect x="1026" y="105" width="3" height="8" fill="#089981"/>
<rect x="1030" y="99" width="1" height="9" fill="#089981"/>
<rect x="1029" y="103" width="3" height="3" fill="#089981"/>
<rect x="1034" y="101" width="1" height="10" fill="#089981"/>
<rect x="1033" y="105" width="3" height="2" fill="#089981"/>
<rect x="1037" y="104" width="1" height="15" fill="#f23645"/>
<rect x="1036" y="105" width="3" height="14" fill="#f23645"/>
<rect x="1041" y="111" width="1" height="12" fill="#089981"/>
<rect x="1040" y="116" width="3" height="3" fill="#089981"/>
<rect x="1045" y="59" width="1" height="59" fill="#089981"/>
<rect x="1044" y="64" width="3" height="53" fill="#089981"/>
<rect x="1048" y="62" width="1" height="26" fill="#f23645"/>
<rect x="1047" y="64" width="3" height="19" fill="#f23645"/>
<rect x="1052" y="80" width="1" height="4" fill="#089981"/>
<rect x="1051" y="82" width="3" height="1" fill="#089981"/>
<rect x="1055" y="76" width="1" height="7" fill="#f23645"/>
<rect x="1054" y="81" width="3" height="1" fill="#f23645"/>
<rect x="1059" y="79" width="1" height="13" fill="#f23645"/>
<rect x="1058" y="81" width="3" height="10" fill="#f23645"/>
<rect x="1062" y="89" width="1" height="10" fill="#f23645"/>
<rect x="1061" y="90" width="3" height="3" fill="#f23645"/>
<rect x="1066" y="76" width="1" height="19" fill="#089981"/>
<rect x="1065" y="77" width="3" height="16" fill="#089981"/>
<rect x="1069" y="61" width="1" height="18" fill="#089981"/>
<rect x="1068" y="66" width="3" height="12" fill="#089981"/>
<rect x="1073" y="66" width="1" height="6" fill="#f23645"/>
<rect x="1072" y="66" width="3" height="6" fill="#f23645"/>
<rect x="1076" y="65" width="1" height="12" fill="#f23645"/>
<rect x="1075" y="68" width="3" height="9" fill="#f23645"/>
<rect x="1080" y="73" width="1" height="8" fill="#f23645"/>
<rect x="1079" y="76" width="3" height="1" fill="#f23645"/>
<rect x="1084" y="73" width="1" height="13" fill="#f23645"/>
<rect x="1083" y="76" width="3" height="6" fill="#f23645"/>
<rect x="1087" y="69" width="1" height="14" fill="#089981"/>
<rect x="1086" y="75" width="3" height="7" fill="#089981"/>
<rect x="1091" y="75" width="1" height="20" fill="#f23645"/>
<rect x="1090" y="75" width="3" height="8" fill="#f23645"/>
<rect x="1094" y="83" width="1" height="7" fill="#f23645"/>
<rect x="1093" y="83" width="3" height="7" fill="#f23645"/>
<rect x="1098" y="87" width="1" height="10" fill="#f23645"/>
<rect x="1097" y="88" width="3" height="9" fill="#f23645"/>
<rect x="1101" y="87" width="1" height="11" fill="#089981"/>
<rect x="1100" y="88" width="3" height="9" fill="#089981"/>
<rect x="1105" y="86" width="1" height="4" fill="#089981"/>
<rect x="1104" y="88" width="3" height="2" fill="#089981"/>
<g fill="#089981">
<rect x="10" y="88" width="1" height="1"/>
<rect x="13" y="88" width="1" height="1"/>
<rect x="16" y="88" width="1" height="1"/>
<rect x="19" y="88" width="1" height="1"/>
<rect x="22" y="88" width="1" height="1"/>
<rect x="25" y="88" width="1" height="1"/>
<rect x="28" y="88" width="1" height="1"/>
<rect x="31" y="88" width="1" height="1"/>
<rect x="34" y="88" width="1" height="1"/>
<rect x="37" y="88" width="1" height="1"/>
<rect x="40" y="88" width="1" height="1"/>
<rect x="43" y="88" width="1" height="1"/>
<rect x="46" y="88" width="1" height="1"/>
<rect x="49" y="88" width="1" height="1"/>
<rect x="52" y="88" width="1" height="1"/>
<rect x="55" y="88" width="1" height="1"/>
<rect x="58" y="88" width="1" height="1"/>
<rect x="61" y="88" width="1" height="1"/>
<rect x="64" y="88" width="1" height="1"/>
<rect x="67" y="88" width="1" height="1"/>
<rect x="70" y="88" width="1" height="1"/>
<rect x="73" y="88" width="1" height="1"/>
<rect x="76" y="88" width="1" height="1"/>
<rect x="79" y="88" width="1" height="1"/>
<rect x="82" y="88" width="1" height="1"/>
<rect x="85" y="88" width="1" height="1"/>
<rect x="88" y="88" width="1" height="1"/>
<rect x="91" y="88" width="1" height="1"/>
<rect x="94" y="88" width="1" height="1"/>
<rect x="97" y="88" width="1" height="1"/>
<rect x="100" y="88" width="1" height="1"/>
<rect x="103" y="88" width="1" height="1"/>
<rect x="106" y="88" width="1" height="1"/>
<rect x="109" y="88" width="1" height="1"/>
<rect x="112" y="88" width="1" height="1"/>
<rect x="115" y="88" width="1" height="1"/>
<rect x="118" y="88" width="1" height="1"/>
<rect x="121" y="88" width="1" height="1"/>
<rect x="124" y="88" width="1" height="1"/>
<rect x="127" y="88" width="1" height="1"/>
<rect x="130" y="88" width="1" height="1"/>
<rect x="133" y="88" width="1" height="1"/>
<rect x="136" y="88" width="1" height="1"/>
<rect x="139" y="88" width="1" height="1"/>
<rect x="142" y="88" width="1" height="1"/>
<rect x="145" y="88" width="1" height="1"/>
<rect x="148" y="88" width="1" height="1"/>
<rect x="151" y="88" width="1" height="1"/>
<rect x="154" y="88" width="1" height="1"/>
<rect x="157" y="88" width="1" height="1"/>
<rect x="160" y="88" width="1" height="1"/>
<rect x="163" y="88" width="1" height="1"/>
<rect x="166" y="88" width="1" height="1"/>
<rect x="169" y="88" width="1" height="1"/>
<rect x="172" y="88" width="1" height="1"/>
<rect x="175" y="88" width="1" height="1"/>
<rect x="178" y="88" width="1" height="1"/>
<rect x="181" y="88" width="1" height="1"/>
<rect x="184" y="88" width="1" height="1"/>
<rect x="187" y="88" width="1" height="1"/>
<rect x="190" y="88" width="1" height="1"/>
<rect x="193" y="88" width="1" height="1"/>
<rect x="196" y="88" width="1" height="1"/>
<rect x="199" y="88" width="1" height="1"/>
<rect x="202" y="88" width="1" height="1"/>
<rect x="205" y="88" width="1" height="1"/>
<rect x="208" y="88" width="1" height="1"/>
<rect x="211" y="88" width="1" height="1"/>
<rect x="214" y="88" width="1" height="1"/>
<rect x="217" y="88" width="1" height="1"/>
<rect x="220" y="88" width="1" height="1"/>
<rect x="223" y="88" width="1" height="1"/>
<rect x="226" y="88" width="1" height="1"/>
<rect x="229" y="88" width="1" height="1"/>
<rect x="232" y="88" width="1" height="1"/>
<rect x="235" y="88" width="1" height="1"/>
<rect x="238" y="88" width="1" height="1"/>
<rect x="241" y="88" width="1" height="1"/>
<rect x="244" y="88" width="1" height="1"/>
<rect x="247" y="88" width="1" height="1"/>
<rect x="250" y="88" width="1" height="1"/>
<rect x="253" y="88" width="1" height="1"/>
<rect x="256" y="88" width="1" height="1"/>
<rect x="259" y="88" width="1" height="1"/>
<rect x="262" y="88" width="1" height="1"/>
<rect x="265" y="88" width="1" height="1"/>
<rect x="268" y="88" width="1" height="1"/>
<rect x="271" y="88" width="1" height="1"/>
<rect x="274" y="88" width="1" height="1"/>
<rect x="277" y="88" width="1" height="1"/>
<rect x="280" y="88" width="1" height="1"/>
<rect x="283" y="88" width="1" height="1"/>
<rect x="286" y="88" width="1" height="1"/>
<rect x="289" y="88" width="1" height="1"/>
<rect x="292" y="88" width="1" height="1"/>
<rect x="295" y="88" width="1" height="1"/>
<rect x="298" y="88" width="1" height="1"/>
<rect x="301" y="88" width="1" height="1"/>
<rect x="304" y="88" width="1" height="1"/>
<rect x="307" y="88" width="1" height="1"/>
<rect x="310" y="88" width="1" height="1"/>
<rect x="313" y="88" width="1" height="1"/>
<rect x="316" y="88" width="1" height="1"/>
<rect x="319" y="88" width="1" height="1"/>
<rect x="322" y="88" width="1" height="1"/>
<rect x="325" y="88" width="1" height="1"/>
<rect x="328" y="88" width="1" height="1"/>
<rect x="331" y="88" width="1" height="1"/>
<rect x="334" y="88" width="1" height="1"/>
<rect x="337" y="88" width="1" height="1"/>
<rect x="340" y="88" width="1" height="1"/>
<rect x="343" y="88" width="1" height="1"/>
<rect x="346" y="88" width="1" height="1"/>
<rect x="349" y="88" width="1" height="1"/>
<rect x="352" y="88" width="1" height="1"/>
<rect x="355" y="88" width="1" height="1"/>
<rect x="358" y="88" width="1" height="1"/>
<rect x="361" y="88" width="1" height="1"/>
<rect x="364" y="88" width="1" height="1"/>
<rect x="367" y="88" width="1" height="1"/>
<rect x="370" y="88" width="1" height="1"/>
<rect x="373" y="88" width="1" height="1"/>
<rect x="376" y="88" width="1" height="1"/>
<rect x="379" y="88" width="1" height="1"/>
<rect x="382" y="88" width="1" height="1"/>
<rect x="385" y="88" width="1" height="1"/>
<rect x="388" y="88" width="1" height="1"/>
<rect x="391" y="88" width="1" height="1"/>
<rect x="394" y="88" width="1" height="1"/>
<rect x="397" y="88" width="1" height="1"/>
<rect x="400" y="88" width="1" height="1"/>
<rect x="403" y="88" width="1" height="1"/>
<rect x="406" y="88" width="1" height="1"/>
<rect x="409" y="88" width="1" height="1"/>
<rect x="412" y="88" width="1" height="1"/>
<rect x="415" y="88" width="1" height="1"/>
<rect x="418" y="88" width="1" height="1"/>
<rect x="421" y="88" width="1" height="1"/>
<rect x="424" y="88" width="1" height="1"/>
<rect x="427" y="88" width="1" height="1"/>
<rect x="430" y="88" width="1" height="1"/>
<rect x="433" y="88" width="1" height="1"/>
<rect x="436" y="88" width="1" height="1"/>
<rect x="439" y="88" width="1" height="1"/>
<rect x="442" y="88" width="1" height="1"/>
<rect x="445" y="88" width="1" height="1"/>
<rect x="448" y="88" width="1" height="1"/>
<rect x="451" y="88" width="1" height="1"/>
<rect x="454" y="88" width="1" height="1"/>
<rect x="457" y="88" width="1" height="1"/>
<rect x="460" y="88" width="1" height="1"/>
<rect x="463" y="88" width="1" height="1"/>
<rect x="466" y="88" width="1" height="1"/>
<rect x="469" y="88" width="1" height="1"/>
<rect x="472" y="88" width="1" height="1"/>
<rect x="475" y="88" width="1" height="1"/>
<rect x="478" y="88" width="1" height="1"/>
<rect x="481" y="88" width="1" height="1"/>
<rect x="484" y="88" width="1" height="1"/>
<rect x="487" y="88" width="1" height="1"/>
<rect x="490" y="88" width="1" height="1"/>
<rect x="493" y="88" width="1" height="1"/>
<rect x="496" y="88" width="1" height="1"/>
<rect x="499" y="88" width="1" height="1"/>
<rect x="502" y="88" width="1" height="1"/>
<rect x="505" y="88" width="1" height="1"/>
<rect x="508" y="88" width="1" height="1"/>
<rect x="511" y="88" width="1" height="1"/>
<rect x="514" y="88" width="1" height="1"/>
<rect x="517" y="88" width="1" height="1"/>
<rect x="520" y="88" width="1" height="1"/>
<rect x="523" y="88" width="1" height="1"/>
<rect x="526" y="88" width="1" height="1"/>
<rect x="529" y="88" width="1" height="1"/>
<rect x="532" y="88" width="1" height="1"/>
<rect x="535" y="88" width="1" height="1"/>
<rect x="538" y="88" width="1" height="1"/>
<rect x="541" y="88" width="1" height="1"/>
<rect x="544" y="88" width="1" height="1"/>
<rect x="547" y="88" width="1" height="1"/>
<rect x="550" y="88" width="1" height="1"/>
<rect x="553" y="88" width="1" height="1"/>
<rect x="556" y="88" width="1" height="1"/>
<rect x="559" y="88" width="1" height="1"/>
<rect x="562" y="88" width="1" height="1"/>
<rect x="565" y="88" width="1" height="1"/>
<rect x="568" y="88" width="1" height="1"/>
<rect x="571" y="88" width="1" height="1"/>
<rect x="574" y="88" width="1" height="1"/>
<rect x="577" y="88" width="1" height="1"/>
<rect x="580" y="88" width="1" height="1"/>
<rect x="583" y="88" width="1" height="1"/>
<rect x="586" y="88" width="1" height="1"/>
<rect x="589" y="88" width="1" height="1"/>
<rect x="592" y="88" width="1" height="1"/>
<rect x="595" y="88" width="1" height="1"/>
<rect x="598" y="88" width="1" height="1"/>
<rect x="601" y="88" width="1" height="1"/>
<rect x="604" y="88" width="1" height="1"/>
<rect x="607" y="88" width="1" height="1"/>
<rect x="610" y="88" width="1" height="1"/>
<rect x="613" y="88" width="1" height="1"/>
<rect x="616" y="88" width="1" height="1"/>
<rect x="619" y="88" width="1" height="1"/>
<rect x="622" y="88" width="1" height="1"/>
<rect x="625" y="88" width="1" height="1"/>
<rect x="628" y="88" width="1" height="1"/>
<rect x="631" y="88" width="1" height="1"/>
<rect x="634" y="88" width="1" height="1"/>
<rect x="637" y="88" width="1" height="1"/>
<rect x="640" y="88" width="1" height="1"/>
<rect x="643" y="88" width="1" height="1"/>
<rect x="646" y="88" width="1" height="1"/>
<rect x="649" y="88" width="1" height="1"/>
<rect x="652" y="88" width="1" height="1"/>
<rect x="655" y="88" width="1" height="1"/>
<rect x="658" y="88" width="1" height="1"/>
<rect x="661" y="88" width="1" height="1"/>
<rect x="664" y="88" width="1" height="1"/>
<rect x="667" y="88" width="1" height="1"/>
<rect x="670" y="88" width="1" height="1"/>
<rect x="673" y="88" width="1" height="1"/>
<rect x="676" y="88" width="1" height="1"/>
<rect x="679" y="88" width="1" height="1"/>
<rect x="682" y="88" width="1" height="1"/>
<rect x="685" y="88" width="1" height="1"/>
<rect x="688" y="88" width="1" height="1"/>
<rect x="691" y="88" width="1" height="1"/>
<rect x="694" y="88" width="1" height="1"/>
<rect x="697" y="88" width="1" height="1"/>
<rect x="700" y="88" width="1" height="1"/>
<rect x="703" y="88" width="1" height="1"/>
<rect x="706" y="88" width="1" height="1"/>
<rect x="709" y="88" width="1" height="1"/>
<rect x="712" y="88" width="1" height="1"/>
<rect x="715" y="88" width="1" height="1"/>
<rect x="718" y="88" width="1" height="1"/>
<rect x="721" y="88" width="1" height="1"/>
<rect x="724" y="88" width="1" height="1"/>
<rect x="727" y="88" width="1" height="1"/>
<rect x="730" y="88" width="1" height="1"/>
<rect x="733" y="88" width="1" height="1"/>
<rect x="736" y="88" width="1" height="1"/>
<rect x="739" y="88" width="1" height="1"/>
<rect x="742" y="88" width="1" height="1"/>
<rect x="745" y="88" width="1" height="1"/>
<rect x="748" y="88" width="1" height="1"/>
<rect x="751" y="88" width="1" height="1"/>
<rect x="754" y="88" width="1" height="1"/>
<rect x="757" y="88" width="1" height="1"/>
<rect x="760" y="88" width="1" height="1"/>
<rect x="763" y="88" width="1" height="1"/>
<rect x="766" y="88" width="1" height="1"/>
<rect x="769" y="88" width="1" height="1"/>
<rect x="772" y="88" width="1" height="1"/>
<rect x="775" y="88" width="1" height="1"/>
<rect x="778" y="88" width="1" height="1"/>
<rect x="781" y="88" width="1" height="1"/>
<rect x="784" y="88" width="1" height="1"/>
<rect x="787" y="88" width="1" height="1"/>
<rect x="790" y="88" width="1" height="1"/>
<rect x="793" y="88" width="1" height="1"/>
<rect x="796" y="88" width="1" height="1"/>
<rect x="799" y="88" width="1" height="1"/>
<rect x="802" y="88" width="1" height="1"/>
<rect x="805" y="88" width="1" height="1"/>
<rect x="808" y="88" width="1" height="1"/>
<rect x="811" y="88" width="1" height="1"/>
<rect x="814" y="88" width="1" height="1"/>
<rect x="817" y="88" width="1" height="1"/>
<rect x="820" y="88" width="1" height="1"/>
<rect x="823" y="88" width="1" height="1"/>
<rect x="826" y="88" width="1" height="1"/>
<rect x="829" y="88" width="1" height="1"/>
<rect x="832" y="88" width="1" height="1"/>
<rect x="835" y="88" width="1" height="1"/>
<rect x="838" y="88" width="1" height="1"/>
<rect x="841" y="88" width="1" height="1"/>
<rect x="844" y="88" width="1" height="1"/>
<rect x="847" y="88" width="1" height="1"/>
<rect x="850" y="88" width="1" height="1"/>
<rect x="853" y="88" width="1" height="1"/>
<rect x="856" y="88" width="1" height="1"/>
<rect x="859" y="88" width="1" height="1"/>
<rect x="862" y="88" width="1" height="1"/>
<rect x="865" y="88" width="1" height="1"/>
<rect x="868" y="88" width="1" height="1"/>
<rect x="871" y="88" width="1" height="1"/>
<rect x="874" y="88" width="1" height="1"/>
<rect x="877" y="88" width="1" height="1"/>
<rect x="880" y="88" width="1" height="1"/>
<rect x="883" y="88" width="1" height="1"/>
<rect x="886" y="88" width="1" height="1"/>
<rect x="889" y="88" width="1" height="1"/>
<rect x="892" y="88" width="1" height="1"/>
<rect x="895" y="88" width="1" height="1"/>
<rect x="898" y="88" width="1" height="1"/>
<rect x="901" y="88" width="1" height="1"/>
<rect x="904" y="88" width="1" height="1"/>
<rect x="907" y="88" width="1" height="1"/>
<rect x="910" y="88" width="1" height="1"/>
<rect x="913" y="88" width="1" height="1"/>
<rect x="916" y="88" width="1" height="1"/>
<rect x="919" y="88" width="1" height="1"/>
<rect x="922" y="88" width="1" height="1"/>
<rect x="925" y="88" width="1" height="1"/>
<rect x="928" y="88" width="1" height="1"/>
<rect x="931" y="88" width="1" height="1"/>
<rect x="934" y="88" width="1" height="1"/>
<rect x="937" y="88" width="1" height="1"/>
<rect x="940" y="88" width="1" height="1"/>
<rect x="943" y="88" width="1" height="1"/>
<rect x="946" y="88" width="1" height="1"/>
<rect x="949" y="88" width="1" height="1"/>
<rect x="952" y="88" width="1" height="1"/>
<rect x="955" y="88" width="1" height="1"/>
<rect x="958" y="88" width="1" height="1"/>
<rect x="961" y="88" width="1" height="1"/>
<rect x="964" y="88" width="1" height="1"/>
<rect x="967" y="88" width="1" height="1"/>
<rect x="970" y="88" width="1" height="1"/>
<rect x="973" y="88" width="1" height="1"/>
<rect x="976" y="88" width="1" height="1"/>
<rect x="979" y="88" width="1" height="1"/>
<rect x="982" y="88" width="1" height="1"/>
<rect x="985" y="88" width="1" height="1"/>
<rect x="988" y="88" width="1" height="1"/>
<rect x="991" y="88" width="1" height="1"/>
<rect x="994" y="88" width="1" height="1"/>
<rect x="997" y="88" width="1" height="1"/>
<rect x="1000" y="88" width="1" height="1"/>
<rect x="1003" y="88" width="1" height="1"/>
<rect x="1006" y="88" width="1" height="1"/>
<rect x="1009" y="88" width="1" height="1"/>
<rect x="1012" y="88" width="1" height="1"/>
<rect x="1015" y="88" width="1" height="1"/>
<rect x="1018" y="88" width="1" height="1"/>
<rect x="1021" y="88" width="1" height="1"/>
<rect x="1024" y="88" width="1" height="1"/>
<rect x="1027" y="88" width="1" height="1"/>
<rect x="1030" y="88" width="1" height="1"/>
<rect x="1033" y="88" width="1" height="1"/>
<rect x="1036" y="88" width="1" height="1"/>
<rect x="1039" y="88" width="1" height="1"/>
<rect x="1042" y="88" width="1" height="1"/>
<rect x="1045" y="88" width="1" height="1"/>
<rect x="1048" y="88" width="1" height="1"/>
<rect x="1051" y="88" width="1" height="1"/>
<rect x="1054" y="88" width="1" height="1"/>
<rect x="1057" y="88" width="1" height="1"/>
<rect x="1060" y="88" width="1" height="1"/>
<rect x="1063" y="88" width="1" height="1"/>
<rect x="1066" y="88" width="1" height="1"/>
<rect x="1069" y="88" width="1" height="1"/>
<rect x="1072" y="88" width="1" height="1"/>
<rect x="1075" y="88" width="1" height="1"/>
<rect x="1078" y="88" width="1" height="1"/>
<rect x="1081" y="88" width="1" height="1"/>
<rect x="1084" y="88" width="1" height="1"/>
<rect x="1087" y="88" width="1" height="1"/>
<rect x="1090" y="88" width="1" height="1"/>
<rect x="1093" y="88" width="1" height="1"/>
<rect x="1096" y="88" width="1" height="1"/>
<rect x="1099" y="88" width="1" height="1"/>
<rect x="1102" y="88" width="1" height="1"/>
<rect x="1105" y="88" width="1" height="1"/>
<rect x="1108" y="88" width="1" height="1"/>
<rect x="1111" y="88" width="1" height="1"/>
<rect x="1114" y="88" width="1" height="1"/>
<rect x="1117" y="88" width="1" height="1"/>
<rect x="1120" y="88" width="1" height="1"/>
<rect x="1123" y="88" width="1" height="1"/>
<rect x="1126" y="88" width="1" height="1"/>
<rect x="1129" y="88" width="1" height="1"/>
<rect x="1132" y="88" width="1" height="1"/>
<rect x="1135" y="88" width="1" height="1"/>
<rect x="1138" y="88" width="1" height="1"/>
<rect x="1141" y="88" width="1" height="1"/>
</g>
</g>
<path fill="none" stroke="rgba(222,225,234,0.5)" stroke-width="2" d="M10 10H1199V529H10Z" shape-rendering="crispEdges"/>
<path d="M11 501H1143V502H11ZM1144 501H1198V502H1144Z" fill="#e0e3eb" shape-rendering="crispEdges"/>
<g font-family='"Liberation Sans", sans-serif' font-size="12" fill="#131722">
<text x="18.3" y="29" textLength="34.9" lengthAdjust="spacingAndGlyphs">BRENT</text>
<text x="56.4" y="29" textLength="21.4" lengthAdjust="spacingAndGlyphs">OIL,</text>
<text x="81.8" y="29" textLength="13.1" lengthAdjust="spacingAndGlyphs">4h</text>
<text x="102" y="29" textLength="8" lengthAdjust="spacingAndGlyphs">O</text>
<text x="111" y="29" textLength="34.4" lengthAdjust="spacingAndGlyphs" fill="#089981">90.147</text>
<text x="153.6" y="29" textLength="7" lengthAdjust="spacingAndGlyphs">H</text>
<text x="161.7" y="29" textLength="34.6" lengthAdjust="spacingAndGlyphs" fill="#089981">90.283</text>
<text x="204.6" y="29" textLength="5.4" lengthAdjust="spacingAndGlyphs">L</text>
<text x="210.9" y="29" textLength="34.1" lengthAdjust="spacingAndGlyphs" fill="#089981">90.147</text>
<text x="253.7" y="29" textLength="6.6" lengthAdjust="spacingAndGlyphs">C</text>
<text x="261.2" y="29" textLength="34.5" lengthAdjust="spacingAndGlyphs" fill="#089981">90.172</text>
<text x="304.1" y="29" textLength="34.9" lengthAdjust="spacingAndGlyphs" fill="#089981">+0.030</text>
<text x="344.1" y="29" textLength="44.4" lengthAdjust="spacingAndGlyphs" fill="#089981">(+0.03%)</text>
<text x="1153" y="53.7" textLength="35.6" lengthAdjust="spacingAndGlyphs">92.000</text>
<text x="1153" y="94.9" textLength="35.6" lengthAdjust="spacingAndGlyphs">90.000</text>
<text x="1153" y="136.0" textLength="35.6" lengthAdjust="spacingAndGlyphs">88.000</text>
<text x="1153" y="177.1" textLength="35.6" lengthAdjust="spacingAndGlyphs">86.000</text>
<text x="1153" y="218.3" textLength="35.6" lengthAdjust="spacingAndGlyphs">84.000</text>
<text x="1153" y="259.4" textLength="35.6" lengthAdjust="spacingAndGlyphs">82.000</text>
<text x="1153" y="300.6" textLength="35.6" lengthAdjust="spacingAndGlyphs">80.000</text>
<text x="1153" y="341.7" textLength="35.6" lengthAdjust="spacingAndGlyphs">78.000</text>
<text x="1153" y="382.9" textLength="35.6" lengthAdjust="spacingAndGlyphs">76.000</text>
<text x="1153" y="424.0" textLength="35.6" lengthAdjust="spacingAndGlyphs">74.000</text>
<text x="63.3" y="518.8" text-anchor="middle" textLength="16.8" lengthAdjust="spacingAndGlyphs">Jul</text>
<text x="145.3" y="518.8" text-anchor="middle">7</text>
<text x="230.3" y="518.8" text-anchor="middle" textLength="12.2" lengthAdjust="spacingAndGlyphs">13</text>
<text x="315.3" y="518.8" text-anchor="middle" textLength="12.2" lengthAdjust="spacingAndGlyphs">19</text>
<text x="400.3" y="518.8" text-anchor="middle" textLength="12.2" lengthAdjust="spacingAndGlyphs">25</text>
<text x="506.3" y="518.8" text-anchor="middle" stroke="#131722" stroke-width="0.55" textLength="20.7" lengthAdjust="spacingAndGlyphs">Aug</text>
<text x="591.3" y="518.8" text-anchor="middle">7</text>
<text x="676.3" y="518.8" text-anchor="middle" textLength="12.2" lengthAdjust="spacingAndGlyphs">11</text>
<text x="761.3" y="518.8" text-anchor="middle" textLength="12.2" lengthAdjust="spacingAndGlyphs">17</text>
<text x="846.3" y="518.8" text-anchor="middle" textLength="12.2" lengthAdjust="spacingAndGlyphs">23</text>
<text x="995.3" y="518.8" text-anchor="middle" stroke="#131722" stroke-width="0.55" textLength="19.3" lengthAdjust="spacingAndGlyphs">Sep</text>
<text x="1076.3" y="518.8" text-anchor="middle">7</text>
</g>
<path d="M1109 51H1142V68H1109Q1107 68 1107 66V53Q1107 51 1109 51Z" fill="#e3effd"/>
<path d="M1143 51H1193Q1195 51 1195 53V66Q1195 68 1193 68H1143Z" fill="#e3effd"/>
<path d="M1111 453H1142V470H1111Q1109 470 1109 468V455Q1109 453 1111 453Z" fill="#e3effd"/>
<path d="M1143 453H1193Q1195 453 1195 455V468Q1195 470 1193 470H1143Z" fill="#e3effd"/>
<path d="M1143 80H1193Q1195 80 1195 82V95Q1195 97 1193 97H1143Z" fill="#089981"/>
<g font-family='"Liberation Sans", sans-serif' font-size="12" fill="#131722">
<text x="1112.6" y="62.8" textLength="23" lengthAdjust="spacingAndGlyphs">High</text>
<text x="1153.2" y="62.8" textLength="34.6" lengthAdjust="spacingAndGlyphs">91.581</text>
<text x="1114.8" y="464.7" textLength="21" lengthAdjust="spacingAndGlyphs">Low</text>
<text x="1153.3" y="464.7" textLength="35" lengthAdjust="spacingAndGlyphs">72.067</text>
<text x="1153.2" y="91.8" textLength="35.4" lengthAdjust="spacingAndGlyphs" fill="#fff" font-weight="bold">90.172</text>
</g>
<g fill="#131722"><path d="M10 541.2H17V550.7H13.6V545H10Z"/><circle cx="20.6" cy="543.1" r="1.85"/><path d="M23.9 541.2H29.4L26.2 550.7H20.7Z"/></g>
<text x="33.6" y="551" font-family='"Liberation Sans", sans-serif' font-size="13" fill="#131722" textLength="69.2" lengthAdjust="spacingAndGlyphs">TradingView</text>
</svg>
</body></html>
